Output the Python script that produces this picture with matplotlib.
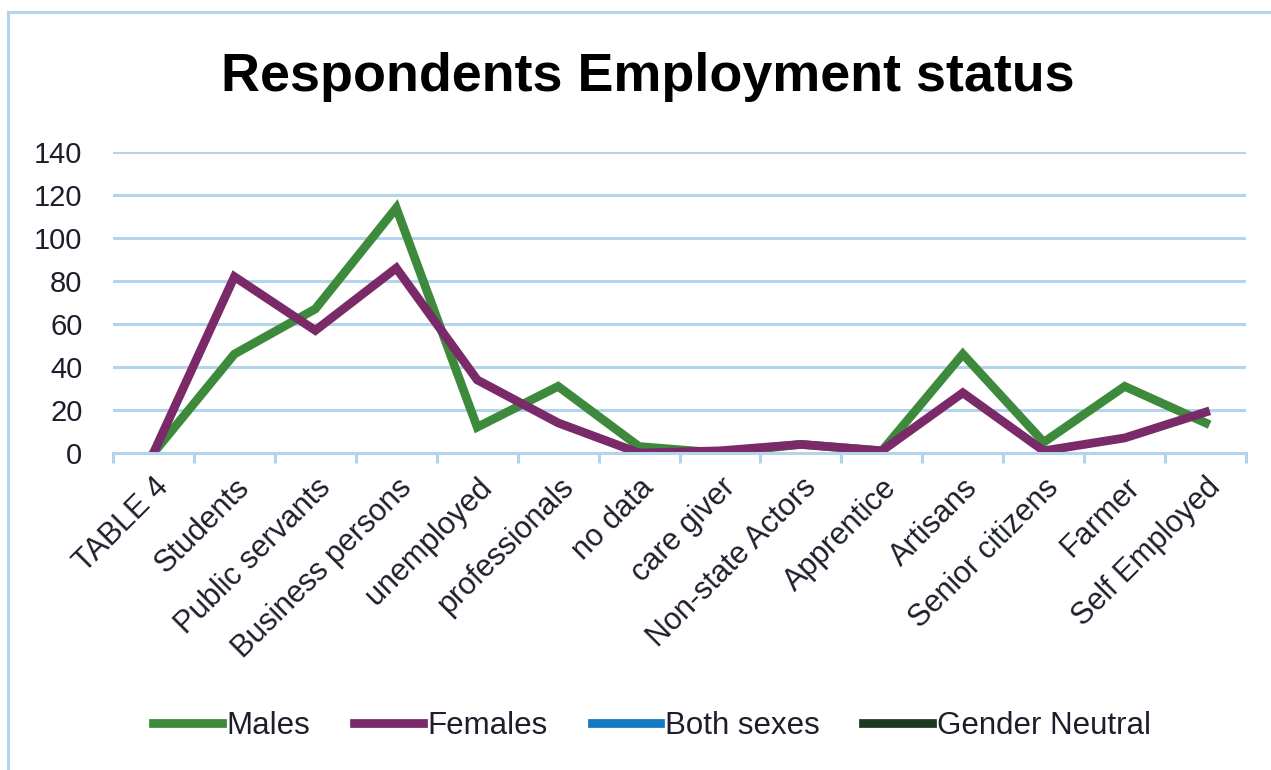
import matplotlib
matplotlib.use('Agg')
import matplotlib.pyplot as plt
from matplotlib.lines import Line2D

categories = ['TABLE 4', 'Students', 'Public servants', 'Business persons',
              'unemployed', 'professionals', 'no data', 'care giver',
              'Non-state Actors', 'Apprentice', 'Artisans', 'Senior citizens',
              'Farmer', 'Self Employed']
males = [0, 46, 67, 114, 12, 31, 3, 0, 4, 1, 46, 5, 31, 14]
females = [0, 82, 57, 86, 34, 14, 0, 1, 4, 1, 28, 1, 7, 19]
both_sexes = []
gender_neutral = []
y_ticks = [0, 20, 40, 60, 80, 100, 120, 140]

plt.rcParams['font.family'] = ['Liberation Sans', 'DejaVu Sans']
text_col = '#1c1f2b'
grid_col = '#b4d4ec'

fig = plt.figure(figsize=(12.71, 7.70), dpi=100)
ax = fig.add_axes([0.0889, 0.4117, 0.8915, 0.3909])

x = list(range(len(categories)))
ax.plot(x, males, color='#3e8a3c', lw=6.3, label='Males', solid_joinstyle='miter')
ax.plot(x, females, color='#7b2a69', lw=6.3, label='Females', solid_joinstyle='miter')
ax.plot(x[:len(both_sexes)], both_sexes, color='#1679c3', lw=6.3, label='Both sexes')
ax.plot(x[:len(gender_neutral)], gender_neutral, color='#1f3a22', lw=6.3, label='Gender Neutral')

ax.set_xlim(-0.5, len(categories) - 0.5)
ax.set_ylim(0, 140)
ax.set_yticks(y_ticks)
ax.set_yticklabels([str(v) for v in y_ticks], fontsize=21, color=text_col)
ax.tick_params(axis='y', length=0, pad=22)
ax.grid(axis='y', color=grid_col, lw=2.2)
ax.set_axisbelow(True)

# category labels sit at the centres, ticks between categories
ax.set_xticks(x)
ax.set_xticklabels(categories, rotation=45, ha='right', rotation_mode='anchor',
                   fontsize=22, color=text_col)
ax.tick_params(axis='x', which='major', length=0, pad=14)
ax.set_xticks([i - 0.5 for i in range(len(categories) + 1)], minor=True)
ax.tick_params(axis='x', which='minor', length=7, width=2.2, color=grid_col)

for s in ['top', 'right', 'left']:
    ax.spines[s].set_visible(False)
ax.spines['bottom'].set_color(grid_col)
ax.spines['bottom'].set_linewidth(2.2)

fig.text(0.51, 0.90, 'Respondents Employment status', ha='center', va='center',
         fontsize=38.8, fontweight='bold', color='black')

fig.legend(loc='center', bbox_to_anchor=(0.513, 0.057), ncol=4, frameon=False,
           prop={'size': 22.5},
           handlelength=2.2, handletextpad=0.15, columnspacing=1.4,
           labelcolor=text_col)

# outer chart frame (left and top edges)
fig.add_artist(Line2D([8 / 1271, 8 / 1271], [0, 1 - 12 / 770], transform=fig.transFigure,
                      color=grid_col, lw=2.2))
fig.add_artist(Line2D([8 / 1271, 1], [1 - 12 / 770, 1 - 12 / 770], transform=fig.transFigure,
                      color=grid_col, lw=2.2))

fig.savefig('out.png', dpi=100)
